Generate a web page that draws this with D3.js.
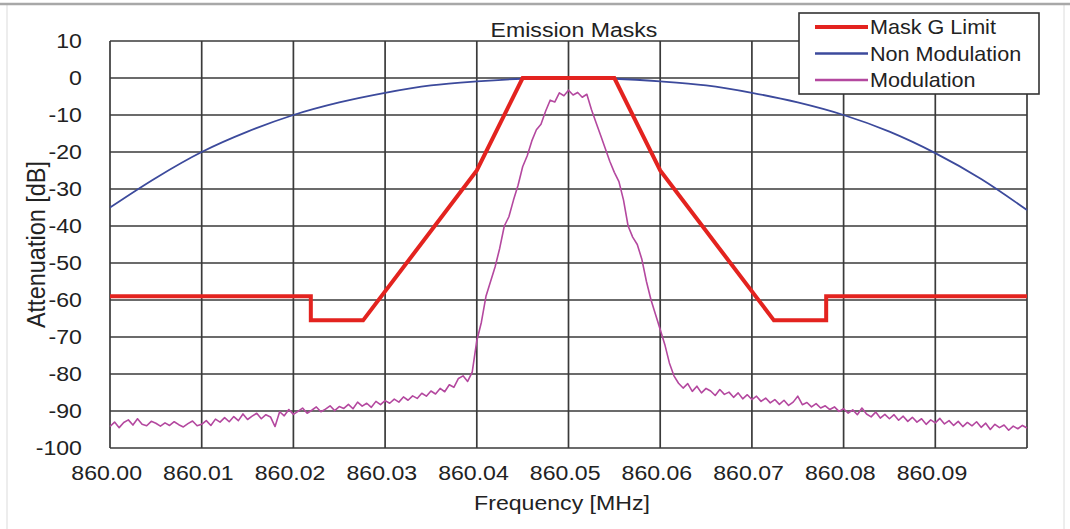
<!DOCTYPE html>
<html>
<head>
<meta charset="utf-8">
<script src="https://cdn.jsdelivr.net/npm/d3@7"></script>
<style>
  html, body { margin: 0; padding: 0; background: #ffffff; }
  svg { display: block; }
  text { font-family: "Liberation Sans", Arial, sans-serif; fill: #222222; }
</style>
</head>
<body>
<svg id="chart" width="1070" height="529"></svg>
<script>
// ---------- data ----------
const title = "Emission Masks";
const xTitle = "Frequency [MHz]";
const yTitle = "Attenuation [dB]";
const seriesNames = ["Mask G Limit", "Non Modulation", "Modulation"];

const xTickValues = [860.00, 860.01, 860.02, 860.03, 860.04, 860.05, 860.06, 860.07, 860.08, 860.09];
const yTickValues = [10, 0, -10, -20, -30, -40, -50, -60, -70, -80, -90, -100];

const maskFreq = [860.000, 860.0219, 860.0219, 860.0276, 860.040, 860.045, 860.055, 860.060, 860.0724, 860.0781, 860.0781, 860.100];
const maskVal  = [-59, -59, -65.5, -65.5, -25, 0, 0, -25, -65.5, -65.5, -59, -59];

const nonModFreq = [860.000, 860.005, 860.010, 860.015, 860.020, 860.025, 860.030, 860.035, 860.040, 860.045, 860.050,
                    860.055, 860.060, 860.065, 860.070, 860.075, 860.080, 860.085, 860.090, 860.095, 860.100];
const nonModVal  = [-35, -27, -20, -14.5, -10, -6.6, -4, -2, -0.9, -0.2, 0,
                    -0.2, -0.9, -2, -4, -6.6, -10, -14.5, -20.3, -27.3, -35.7];

// modulation trace: sampled every 0.0005 MHz from 860.000
const modStart = 860.000;
const modStep = 0.0005;
const modVal = [
  -94.2, -93.0, -94.5, -93.1, -92.4, -93.8, -92.1, -93.6, -94.0, -92.8, -93.3, -94.1, -93.2, -93.9, -92.9, -93.7, -94.3, -93.4, -92.7, -94.0, -93.6,
  -92.6, -93.9, -92.2, -93.0, -91.8, -92.9, -91.5, -92.6, -90.8, -92.3, -91.4, -90.6, -92.1, -91.0, -91.6, -94.2, -90.2, -91.3, -89.6, -90.9,
  -90.1, -89.2, -90.6, -89.8, -88.9, -90.2, -89.5, -88.6, -89.9, -88.8, -89.3, -88.2, -89.4, -87.6, -88.7, -87.9, -89.0, -87.4, -88.3, -87.2,
  -87.9, -86.8, -87.6, -86.2, -87.1, -85.9, -86.6, -85.2, -86.0, -84.6, -85.4, -83.9, -84.8, -82.9, -83.6, -81.2,
  -80.5, -82.0, -79.5,
  -71, -66, -59, -55, -51, -46, -40, -37.5, -33, -29, -24, -21, -17, -14, -12.5, -9, -6, -6.5, -4, -4.8, -3.3, -4.6, -3.9, -5.2, -4.4,
  -8.5, -12, -15.5, -19, -22.5, -25.5, -28, -33, -40, -43, -45, -49, -55, -60, -64, -68, -72, -77, -80.5, -82.5,
  -83.8, -82.6, -84.7, -83.3, -85.1, -83.9, -84.6, -85.8, -84.2, -85.5, -84.9, -86.3, -85.1, -86.7, -85.6, -86.9, -86.0, -87.4, -86.5, -87.8, -86.9, -88.2, -87.1, -88.5, -87.6,
  -86.0, -88.3, -87.7, -88.9, -88.0, -89.2, -88.6, -89.6, -88.9, -90.1,
  -89.4, -90.6, -89.7, -91.0, -89.2, -90.8, -91.6, -90.3, -91.9, -90.9,
  -92.1, -91.0, -92.5, -91.4, -92.8, -91.7, -93.0, -92.1, -93.6, -92.4,
  -93.2, -92.0, -93.5, -92.6, -93.9, -92.8, -94.2, -93.1, -94.0, -92.9,
  -94.4, -93.3, -95.0, -93.6, -94.5, -93.8, -95.2, -94.1, -94.8, -93.9, -94.6
];

// ---------- layout ----------
const W = 1070, H = 529;
const plot = { left: 110, top: 41, right: 1027, bottom: 448 };
const colors = { mask: "#e3231f", nonMod: "#3c4a9c", mod: "#b4489f", grid: "#3a3a3a" };
const stretch = 1.1;   // reference text is slightly wider than Arial

const svg = d3.select("#chart");

// outer frame (cropped chart area)
svg.append("rect").attr("x", 7).attr("y", 4).attr("width", 1057).attr("height", 540)
  .attr("fill", "#ffffff").attr("stroke", "#dcdcdc").attr("stroke-width", 1);
svg.append("line").attr("x1", 0).attr("x2", W).attr("y1", 4).attr("y2", 4)
  .attr("stroke", "#a8a8a8").attr("stroke-width", 2.5);

const x = d3.scaleLinear().domain([860.00, 860.10]).range([plot.left, plot.right]);
const y = d3.scaleLinear().domain([-100, 10]).range([plot.bottom, plot.top]);

// grid
const gridG = svg.append("g");
gridG.selectAll("line.v").data(xTickValues.concat([860.10])).enter().append("line")
  .attr("x1", d => x(d)).attr("x2", d => x(d)).attr("y1", plot.top).attr("y2", plot.bottom)
  .attr("stroke", colors.grid).attr("stroke-width", 1.7);
gridG.selectAll("line.h").data(yTickValues).enter().append("line")
  .attr("x1", plot.left).attr("x2", plot.right).attr("y1", d => y(d)).attr("y2", d => y(d))
  .attr("stroke", colors.grid).attr("stroke-width", 1.7);

// axes (labels only)
const yAxis = d3.axisLeft(y).tickValues(yTickValues).tickSize(0).tickPadding(25.5).tickFormat(d => String(d));
const yg = svg.append("g").attr("transform", `translate(${plot.left},0)`).call(yAxis);
yg.select(".domain").remove();
yg.selectAll("text").style("font-size", "21px").attr("fill", "#222222")
  .style("font-family", '"Liberation Sans", Arial, sans-serif')
  .attr("transform", `scale(${stretch},1)`);

const xAxis = d3.axisBottom(x).tickValues(xTickValues).tickSize(0).tickPadding(17).tickFormat(d3.format(".2f"));
const xg = svg.append("g").attr("transform", `translate(0,${plot.bottom})`).call(xAxis);
xg.select(".domain").remove();
xg.selectAll("text").style("font-size", "21px").attr("fill", "#222222").attr("dx", -3.5)
  .style("font-family", '"Liberation Sans", Arial, sans-serif')
  .attr("transform", `scale(${stretch},1)`);

// titles
svg.append("text").attr("transform", `translate(574,37) scale(${stretch},1)`).attr("text-anchor", "middle")
  .style("font-size", "21px").text(title);
svg.append("text").attr("transform", `translate(562,510) scale(${stretch},1)`).attr("text-anchor", "middle")
  .style("font-size", "21px").text(xTitle);
svg.append("text").attr("transform", `translate(45,${(plot.top + plot.bottom) / 2}) scale(${stretch},1) rotate(-90)`)
  .attr("text-anchor", "middle").style("font-size", "23.5px").text(yTitle);

// lines
const line = d3.line().x(d => x(d[0])).y(d => y(d[1]));
const smooth = d3.line().x(d => x(d[0])).y(d => y(d[1])).curve(d3.curveCatmullRom);

const nonModData = nonModFreq.map((f, i) => [f, nonModVal[i]]);
const modData = modVal.map((v, i) => [modStart + i * modStep, v]);
const maskData = maskFreq.map((f, i) => [f, maskVal[i]]);

svg.append("path").datum(nonModData).attr("d", smooth)
  .attr("fill", "none").attr("stroke", colors.nonMod).attr("stroke-width", 1.8);
svg.append("path").datum(modData).attr("d", line)
  .attr("fill", "none").attr("stroke", colors.mod).attr("stroke-width", 1.6).attr("stroke-linejoin", "round");
svg.append("path").datum(maskData).attr("d", line)
  .attr("fill", "none").attr("stroke", colors.mask).attr("stroke-width", 4).attr("stroke-linejoin", "miter");

// legend
const lg = svg.append("g");
lg.append("rect").attr("x", 799).attr("y", 13).attr("width", 240).attr("height", 81)
  .attr("fill", "#ffffff").attr("stroke", "#333333").attr("stroke-width", 1.6);
const legendItems = [
  { name: seriesNames[0], color: colors.mask, w: 4 },
  { name: seriesNames[1], color: colors.nonMod, w: 2.5 },
  { name: seriesNames[2], color: colors.mod, w: 2.5 }
];
const lgRow = lg.selectAll("g.item").data(legendItems).enter().append("g")
  .attr("transform", (d, i) => `translate(0,${27 + i * 26.5})`);
lgRow.append("line").attr("x1", 815).attr("x2", 868).attr("y1", 0).attr("y2", 0)
  .attr("stroke", d => d.color).attr("stroke-width", d => d.w);
lgRow.append("text").attr("transform", `translate(870,7) scale(1.08,1)`).style("font-size", "20px").text(d => d.name);
</script>
</body>
</html>
